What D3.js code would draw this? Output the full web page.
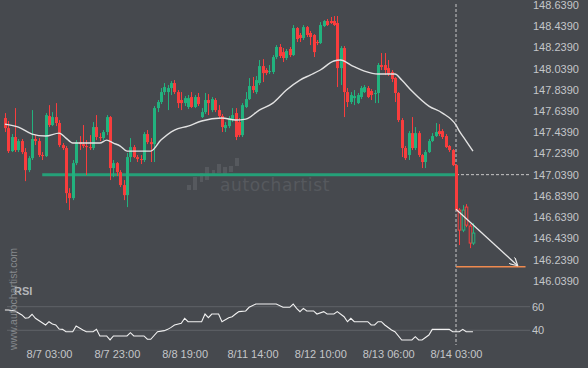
<!DOCTYPE html>
<html><head><meta charset="utf-8">
<script src="https://cdn.jsdelivr.net/npm/d3@7"></script>
<style>html,body{margin:0;padding:0;background:#46494e;}svg{display:block;}</style>
</head><body><svg id="c" width="588" height="368"></svg>
<script>
// ---------------- DATA ----------------
const timeLabels = ["8/7 03:00","8/7 23:00","8/8 19:00","8/11 14:00","8/12 10:00","8/13 06:00","8/14 03:00"];
const timeLabelIndex = [13,33,53,73,93,113,133];
const priceTicks = [146.039,146.239,146.439,146.639,146.839,147.039,147.239,147.439,147.639,147.839,148.039,148.239,148.439,148.639];
const rsiTicks = [40,60];

const opens = [147.573,147.478,147.261,147.394,147.271,147.356,147.252,147.082,147.195,147.375,
147.356,147.224,147.214,147.592,147.507,147.582,147.526,147.318,147.290,146.865,
146.818,147.148,147.346,147.327,147.309,147.299,147.290,147.488,147.394,147.384,
147.441,147.582,147.101,147.148,147.063,146.941,146.846,147.205,147.299,147.205,
147.186,147.177,147.422,147.346,147.327,147.667,147.724,147.818,147.818,147.856,
147.903,147.818,147.743,147.714,147.677,147.771,147.677,147.771,147.582,147.629,
147.743,147.648,147.743,147.648,147.592,147.478,147.497,147.563,147.620,147.535,
147.412,147.677,147.752,147.875,147.818,147.903,148.063,148.026,148.007,148.007,
148.148,148.243,148.195,148.139,148.224,148.167,148.422,148.356,148.328,148.431,
148.375,148.356,148.290,148.280,148.441,148.488,148.488,148.488,148.469,148.044,
148.233,147.818,147.724,147.761,147.714,147.771,147.818,147.856,147.828,147.799,
147.809,148.073,148.073,148.044,148.007,147.950,147.809,147.554,147.290,147.224,
147.431,147.290,147.431,147.224,147.158,147.252,147.356,147.403,147.450,147.450,
147.403,147.309,147.271,147.129,146.705,146.516,146.733,146.554,146.394];
const closes = [147.478,147.261,147.394,147.271,147.356,147.252,147.082,147.195,147.375,147.356,
147.224,147.214,147.601,147.507,147.582,147.526,147.318,147.290,146.865,146.818,
147.148,147.346,147.327,147.309,147.299,147.290,147.488,147.394,147.384,147.441,
147.582,147.101,147.148,147.063,146.941,146.846,147.205,147.299,147.205,147.186,
147.177,147.422,147.346,147.327,147.667,147.724,147.818,147.865,147.856,147.903,
147.818,147.714,147.714,147.761,147.761,147.677,147.771,147.705,147.629,147.743,
147.714,147.752,147.648,147.592,147.488,147.507,147.573,147.601,147.394,147.412,
147.695,147.752,147.875,147.837,147.931,148.063,147.997,147.997,148.016,148.148,
148.243,148.158,148.139,148.205,148.167,148.422,148.318,148.328,148.431,148.356,
148.337,148.195,148.280,148.450,148.488,148.450,148.469,148.450,148.044,148.233,
147.818,147.724,147.790,147.780,147.790,147.856,147.865,147.771,147.790,147.809,
148.073,148.054,148.026,147.988,147.941,147.809,147.554,147.290,147.195,147.431,
147.290,147.431,147.224,147.158,147.252,147.356,147.403,147.441,147.422,147.394,
147.299,147.271,147.129,146.705,146.516,146.705,146.563,146.394,146.488];
const highs = [147.620,147.545,147.422,147.667,147.375,147.375,147.290,147.214,147.648,147.412,
147.384,147.252,147.620,147.695,147.629,147.714,147.554,147.337,147.309,146.912,
147.177,147.365,147.403,147.507,147.365,147.412,147.535,147.601,147.431,147.460,
147.601,147.592,147.177,147.158,147.082,146.988,147.243,147.384,147.318,147.224,
147.224,147.441,147.460,147.384,147.686,147.743,147.856,147.903,147.884,147.922,
147.931,147.837,147.818,147.780,147.790,147.818,147.790,147.809,147.667,147.809,
147.799,147.771,147.761,147.695,147.611,147.535,147.592,147.667,147.667,147.573,
147.714,147.818,147.950,147.960,147.969,148.120,148.129,148.044,148.073,148.167,
148.261,148.271,148.233,148.224,148.243,148.450,148.431,148.375,148.450,148.441,
148.394,148.365,148.309,148.478,148.497,148.507,148.526,148.535,148.535,148.252,
148.252,147.856,147.818,147.837,147.809,147.875,147.884,147.875,147.846,147.837,
148.092,148.186,148.186,148.120,148.026,147.960,147.818,147.573,147.309,147.450,
147.582,147.488,147.450,147.233,147.271,147.375,147.431,147.526,147.516,147.469,
147.422,147.318,147.280,147.139,146.724,146.752,146.761,146.573,146.582];
const lows = [147.441,147.243,147.252,147.252,147.252,147.233,146.978,147.063,147.177,147.318,
147.205,147.177,147.205,147.488,147.497,147.497,147.299,147.271,146.771,146.705,
146.799,147.129,147.271,147.290,147.035,147.271,147.271,147.365,147.356,147.365,
147.412,146.988,147.016,147.026,146.922,146.799,146.733,147.158,147.195,147.158,
147.139,147.158,147.327,147.158,147.158,147.629,147.705,147.790,147.648,147.790,
147.799,147.667,147.648,147.686,147.658,147.667,147.667,147.686,147.573,147.611,
147.601,147.629,147.629,147.573,147.441,147.441,147.478,147.535,147.365,147.394,
147.394,147.667,147.743,147.809,147.799,147.884,147.912,147.978,147.988,147.988,
148.129,148.139,148.101,148.120,148.148,148.158,148.290,148.290,148.309,148.337,
148.261,148.148,148.261,148.271,148.431,148.441,148.460,148.441,147.865,147.884,
147.582,147.677,147.705,147.695,147.705,147.752,147.809,147.761,147.743,147.714,
147.714,148.026,147.978,147.969,147.912,147.724,147.535,147.205,147.177,147.177,
147.271,147.271,147.205,147.101,147.101,147.243,147.346,147.394,147.403,147.375,
147.290,147.252,147.120,146.695,146.375,146.497,146.544,146.346,146.375];

const maIndex  = [0,4,8,12,16,18,20,28,30,32,34,36,43,46,50,54,58,64,68,71,75,79,83,87,90,93,97,99,102,106,110,115,117,120,125,129,133,134,136,138];
const maValues = [147.516,147.488,147.422,147.403,147.431,147.384,147.337,147.337,147.365,147.337,147.309,147.261,147.261,147.365,147.460,147.497,147.545,147.573,147.554,147.563,147.648,147.714,147.837,147.931,147.978,148.026,148.111,148.120,148.073,148.016,147.988,147.988,147.931,147.828,147.686,147.620,147.507,147.450,147.356,147.261];

const rsiIndex  = [0,1,3,5,6,7,8,9,11,12,13,14,15,16,17,18,20,21,23,24,26,27,28,30,31,32,36,37,38,41,42,43,45,47,48,49,50,52,53,54,58,59,60,61,63,64,66,67,68,69,71,72,74,80,82,84,85,86,87,88,89,91,92,94,95,97,98,100,101,102,103,107,108,109,110,111,112,114,115,117,120,121,122,123,125,126,131,132,134,135,136,138];
const rsiValues = [57.2,57.2,56.4,53.0,50.2,50.7,53.6,50.2,46.4,44.5,47.3,45.3,44.5,41.1,40.8,38.8,38.8,43.6,40.3,38.8,38.8,40.8,35.2,35.2,31.8,35.2,35.2,38.0,35.2,35.2,32.4,32.4,38.8,39.7,40.8,42.5,44.5,45.9,50.2,47.3,47.3,53.8,50.7,53.8,53.8,47.3,50.7,51.5,53.8,55.8,56.4,59.5,62.3,62.3,59.5,59.5,62.3,58.6,55.8,58.6,56.4,56.4,53.8,55.8,53.8,53.8,55.8,51.5,47.3,50.2,47.3,47.3,44.5,44.5,47.3,47.3,44.5,40.3,38.8,31.8,31.8,34.6,31.8,31.8,36.0,40.8,40.8,38.8,38.8,40.8,38.8,38.8];

const supportLevel = 147.039, supportFrom = 11, supportTo = 133;
const currentIndex = 133;
const projectedFrom = 134;
const targetLevel = 146.17, targetEndIndex = 153.5;
const arrowStart = {i:133, p:146.712}, arrowEnd = {i:151.2, p:146.18};

// ---------------- CHART ----------------
const W = 588, H = 368;
const BG = "#46494e", GREEN = "#22b27e", RED = "#f83d3d", TEXT = "#c4c6c9";
const FONT = "'Liberation Sans', Arial, sans-serif";

const svg = d3.select("#c");
svg.append("rect").attr("width", W).attr("height", H).attr("fill", BG);

const x = d3.scaleLinear().domain([13, 133]).range([49, 456]);
const y = d3.scaleLinear().domain([146.039, 148.639]).range([280.7, 5]);
const yr = d3.scaleLinear().domain([40, 60]).range([330.3, 306.7]);

const defs = svg.append("defs");
defs.append("marker").attr("id","ah").attr("viewBox","0 0 10 10").attr("refX",9).attr("refY",5)
  .attr("markerWidth",9).attr("markerHeight",9).attr("orient","auto").attr("markerUnits","userSpaceOnUse")
  .append("path").attr("d","M0,0 L9,5 L0,10").attr("fill","none").attr("stroke","#e8e8e8").attr("stroke-width",1.3);

// watermark
const wm = svg.append("g").attr("fill", "#56595e");
[[187,185,4,5],[193,177,4,13],[200,173,3,9],[205,167,4,13],[212,170,3,5],[217,164,4,9],[223,167,4,8],[229,166,4,6],[235,158,4,8]]
  .forEach(b => wm.append("rect").attr("x",b[0]).attr("y",b[1]).attr("width",b[2]).attr("height",b[3]));
svg.append("text").attr("x", 220).attr("y", 191).attr("fill", "#56595e")
  .attr("font-family", "'DejaVu Sans', sans-serif").attr("font-size", 17).attr("letter-spacing", 0.6)
  .text("autochartist");

// RSI grid lines
svg.append("g").selectAll("line").data(rsiTicks).join("line")
  .attr("x1", 7).attr("x2", 530).attr("y1", d => yr(d)).attr("y2", d => yr(d))
  .attr("stroke", "#5f6368").attr("stroke-width", 1);

// support line
svg.append("line").attr("x1", x(supportFrom)).attr("x2", x(supportTo))
  .attr("y1", y(supportLevel)).attr("y2", y(supportLevel))
  .attr("stroke", "#25a078").attr("stroke-width", 3);

// dashed current price / time lines
svg.append("line").attr("x1", x(currentIndex)).attr("x2", 531)
  .attr("y1", y(supportLevel)).attr("y2", y(supportLevel))
  .attr("stroke", "#c8c8c8").attr("stroke-width", 1).attr("stroke-dasharray", "3,2");
svg.append("line").attr("x1", x(currentIndex)).attr("x2", x(currentIndex))
  .attr("y1", 4).attr("y2", 345)
  .attr("stroke", "#c8c8c8").attr("stroke-width", 1).attr("stroke-dasharray", "3,2");

// candles
const candles = opens.map((o, i) => ({i, o, c: closes[i], h: highs[i], l: lows[i]}));
const bw = 2.6;
const cg = svg.append("g");
candles.forEach(d => {
  const col = d.c >= d.o ? GREEN : RED;
  const cx = Math.round(x(d.i)) + 0.5;
  const top = y(Math.max(d.o, d.c)), bot = y(Math.min(d.o, d.c));
  if (d.i >= projectedFrom) {
    cg.append("line").attr("x1", cx).attr("x2", cx).attr("y1", y(d.h)).attr("y2", top).attr("stroke", col);
    cg.append("line").attr("x1", cx).attr("x2", cx).attr("y1", bot).attr("y2", y(d.l)).attr("stroke", col);
    cg.append("rect").attr("x", cx - bw/2).attr("y", top).attr("width", bw).attr("height", Math.max(1, bot - top))
      .attr("fill", "none").attr("stroke", col).attr("stroke-width", 1);
  } else {
    cg.append("line").attr("x1", cx).attr("x2", cx).attr("y1", y(d.h)).attr("y2", y(d.l)).attr("stroke", col);
    cg.append("rect").attr("x", cx - bw/2 - 0.2).attr("y", top).attr("width", bw + 0.4).attr("height", Math.max(1, bot - top))
      .attr("fill", col);
  }
});

// moving average
const maData = maIndex.map((k, j) => [k, maValues[j]]);
svg.append("path").datum(maData)
  .attr("d", d3.line().x(d => x(d[0])).y(d => y(d[1])).curve(d3.curveMonotoneX))
  .attr("fill", "none").attr("stroke", "#e2e2e2").attr("stroke-width", 1.4);

// target line and arrow
svg.append("line").attr("x1", x(currentIndex)).attr("x2", x(targetEndIndex))
  .attr("y1", y(targetLevel)).attr("y2", y(targetLevel))
  .attr("stroke", "#ef8a4f").attr("stroke-width", 1.5);
svg.append("line").attr("x1", x(arrowStart.i)).attr("y1", y(arrowStart.p))
  .attr("x2", x(arrowEnd.i)).attr("y2", y(arrowEnd.p))
  .attr("stroke", "#e8e8e8").attr("stroke-width", 1.3).attr("marker-end", "url(#ah)");

// RSI line
const rsiData = rsiIndex.map((k, j) => [k, rsiValues[j]]);
svg.append("path").datum(rsiData)
  .attr("d", d3.line().x(d => x(d[0])).y(d => yr(d[1])))
  .attr("fill", "none").attr("stroke", "#f2f2f2").attr("stroke-width", 1.1);

// axes
const ya = svg.append("g").attr("transform", "translate(530,0)")
  .call(d3.axisRight(y).tickValues(priceTicks).tickFormat(d3.format(".4f")).tickSize(0).tickPadding(3));
const ra = svg.append("g").attr("transform", "translate(530,0)")
  .call(d3.axisRight(yr).tickValues(rsiTicks).tickFormat(d3.format("d")).tickSize(0).tickPadding(2));
const xa = svg.append("g").attr("transform", "translate(0,350)")
  .call(d3.axisBottom(x).tickValues(timeLabelIndex).tickFormat((d, i) => timeLabels[i]).tickSize(0).tickPadding(0));
[ya, ra, xa].forEach(a => {
  a.select(".domain").remove();
  a.selectAll("text").attr("fill", TEXT).attr("font-family", FONT).attr("font-size", 11);
});

// RSI label
svg.append("text").attr("x", 14).attr("y", 295).attr("fill", "#b4b6b9")
  .attr("font-family", FONT).attr("font-size", 11).attr("font-weight", "bold").text("RSI");

// vertical site text
svg.append("text").attr("transform", "translate(17,350) rotate(-90)")
  .attr("fill", "#85888c").attr("font-family", FONT).attr("font-size", 10.5)
  .text("www.autochartist.com");
</script></body></html>
